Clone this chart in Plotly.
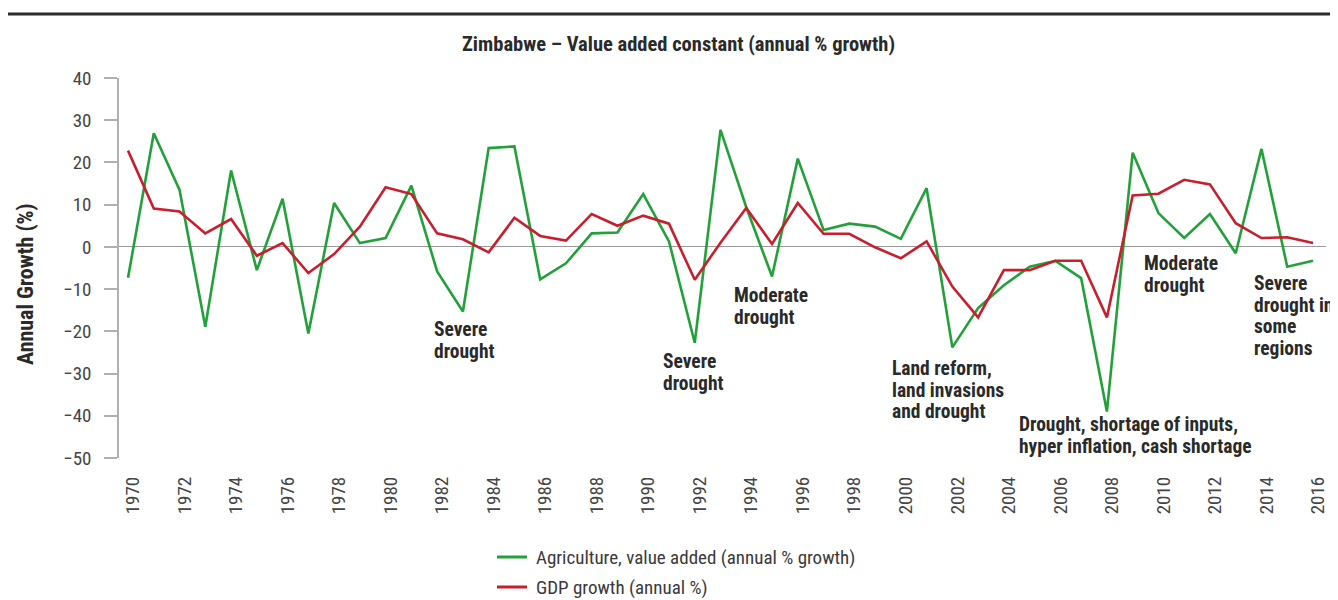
import plotly.graph_objects as go

# ---------------- data ----------------
years = list(range(1970, 2017))

agriculture = [-7.3, 26.9, 13.5, -18.9, 18.1, -5.5, 11.4, -20.5, 10.4, 0.9,
               2.1, 14.5, -5.8, -15.3, 23.4, 23.8, -7.7, -3.9, 3.2, 3.4,
               12.5, 1.3, -22.7, 27.7, 9.4, -7.0, 20.9, 4.0, 5.5, 4.8,
               1.9, 13.9, -23.8, -14.5, -9.1, -4.7, -3.3, -7.4, -39.0, 22.3,
               8.0, 2.1, 7.8, -1.5, 23.2, -4.7, -3.3]

gdp = [22.8, 9.1, 8.4, 3.2, 6.6, -2.1, 0.9, -6.2, -1.7, 4.8,
       14.1, 12.5, 3.2, 1.8, -1.3, 6.9, 2.6, 1.5, 7.8, 5.0,
       7.4, 5.5, -7.8, 1.0, 9.2, 0.7, 10.4, 3.1, 3.1, -0.1,
       -2.7, 1.3, -9.4, -16.7, -5.5, -5.5, -3.3, -3.3, -16.7, 12.2,
       12.6, 15.9, 14.8, 5.6, 2.1, 2.3, 0.9]

series_names = ["Agriculture, value added (annual % growth)", "GDP growth (annual %)"]
chart_title = "Zimbabwe \u2013 Value added constant (annual % growth)"
y_title = "Annual Growth (%)"
y_ticks = [40, 30, 20, 10, 0, -10, -20, -30, -40, -50]
x_ticks = list(range(1970, 2017, 2))

event_labels = [
    ["Severe", "drought"],
    ["Severe", "drought"],
    ["Moderate", "drought"],
    ["Land reform,", "land invasions", "and drought"],
    ["Drought, shortage of inputs,", "hyper inflation, cash shortage"],
    ["Moderate", "drought"],
    ["Severe", "drought in", "some", "regions"],
]

# ---------------- layout (page-pixel placement of free text) ----------------
event_positions = [  # (left px, cap-top px of first line), page coordinates
    (433, 323),
    (662, 355),
    (733, 289),
    (891, 362),
    (1018, 418),
    (1143, 257),
    (1253, 277),
]
LINE_STEP = 21.5

FONT = "Liberation Sans Narrow, Roboto Condensed, DejaVu Sans Condensed, Arial Narrow, sans-serif"
GREEN = "#22a03a"
RED = "#c81e2d"
TEXT_DARK = "#2a2a2a"
TICK_GRAY = "#454545"
colors = [GREEN, RED]

PAGE_OFF = 8              # default body margin of the html page
W, H = 1338 - PAGE_OFF, 600 - PAGE_OFF
L, R, T, B = 119 - PAGE_OFF, 12, 78 - PAGE_OFF, 142
pw, ph = W - L - R, H - T - B


def px_to_paper_x(px):
    return (px - PAGE_OFF - L) / pw


def px_to_paper_y(py):
    return (H - B - (py - PAGE_OFF)) / ph


fig = go.Figure()
for name, vals, col in zip(series_names, [agriculture, gdp], colors):
    fig.add_trace(go.Scatter(x=years, y=vals, mode="lines", name=name,
                             showlegend=False,
                             line=dict(color=col, width=2.6)))

annotations = []
ANN_FONT = dict(family=FONT, size=19.5, color=TEXT_DARK, weight="bold")
for lines, (lx, ty) in zip(event_labels, event_positions):
    for i, line in enumerate(lines):
        annotations.append(dict(x=px_to_paper_x(lx), y=px_to_paper_y(ty - 6 + i * LINE_STEP),
                                xref="paper", yref="paper", text=line, showarrow=False,
                                xanchor="left", yanchor="top", align="left",
                                borderpad=0, font=ANN_FONT))

# chart title
annotations.append(dict(x=px_to_paper_x(678), y=px_to_paper_y(44), xref="paper", yref="paper",
                        text=chart_title, showarrow=False, xanchor="center", yanchor="middle",
                        font=dict(family=FONT, size=20.5, color=TEXT_DARK, weight="bold")))
# y-axis title
annotations.append(dict(x=px_to_paper_x(25), y=px_to_paper_y(284), xref="paper", yref="paper",
                        text=y_title, showarrow=False, textangle=-90,
                        xanchor="center", yanchor="middle",
                        font=dict(family=FONT, size=22, color=TEXT_DARK, weight="bold")))

shapes = [
    # top rule
    dict(type="line", xref="paper", yref="paper",
         x0=px_to_paper_x(8), x1=px_to_paper_x(1345), y0=px_to_paper_y(14), y1=px_to_paper_y(14),
         line=dict(color="#2b2b2b", width=3)),
]

# manual legend (keeps the plot area fixed)
legend_rows = [557, 587]
for name, col, ry in zip(series_names, colors, legend_rows):
    shapes.append(dict(type="line", xref="paper", yref="paper",
                       x0=px_to_paper_x(497), x1=px_to_paper_x(527),
                       y0=px_to_paper_y(ry), y1=px_to_paper_y(ry),
                       line=dict(color=col, width=3)))
    annotations.append(dict(x=px_to_paper_x(535), y=px_to_paper_y(ry), xref="paper", yref="paper",
                            text=name, showarrow=False, xanchor="left", yanchor="middle",
                            borderpad=0,
                            font=dict(family=FONT, size=19, color="#3a3a3a")))

fig.update_layout(
    width=W, height=H,
    margin=dict(l=L, r=R, t=T, b=B, pad=0, autoexpand=False),
    paper_bgcolor="white", plot_bgcolor="white",
    font=dict(family=FONT, color=TICK_GRAY),
    showlegend=False,
    annotations=annotations,
    shapes=shapes,
    xaxis=dict(range=[1969.65, 2016.505], tickmode="array", tickvals=x_ticks,
               ticktext=[str(v) for v in x_ticks], tickangle=-90,
               showgrid=False, zeroline=False, showline=False, ticks="",
               tickfont=dict(family=FONT, size=19, color=TICK_GRAY),
               ticklabelstandoff=14, ticklabelshift=5, automargin=False),
    yaxis=dict(range=[-50, 40], tickmode="array", tickvals=y_ticks,
               showgrid=False, zeroline=True, zerolinecolor="#9a9a9a", zerolinewidth=1,
               showline=True, linecolor="#b0b0b0", linewidth=1.5,
               ticks="outside", ticklen=13, tickcolor="#b0b0b0", tickwidth=1.5,
               tickfont=dict(family=FONT, size=19, color=TICK_GRAY),
               ticklabelstandoff=9, automargin=False),
)

fig.write_html("out.html")
